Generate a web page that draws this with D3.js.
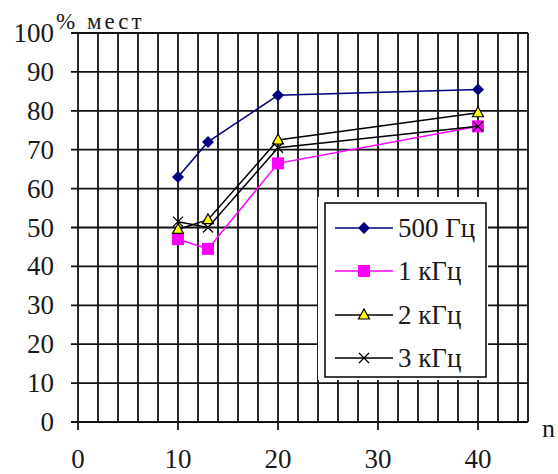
<!DOCTYPE html>
<html>
<head>
<meta charset="utf-8">
<script src="https://cdn.jsdelivr.net/npm/d3@7"></script>
<style>
  body { margin: 0; background: #fff; }
  #chart, #chart text { font-family: "Liberation Serif", "Times New Roman", Tinos !important; }
</style>
</head>
<body>
<svg id="chart" width="558" height="474"></svg>
<script>
// data
const xValues = [10, 13, 20, 40];
const hz500 = [63, 72, 84, 85.5];
const khz1 = [47, 44.5, 66.5, 76];
const khz2 = [49.5, 52, 72.5, 79.5];
const khz3 = [51.5, 50, 70.5, 76];
const seriesNames = ["500 Гц", "1 кГц", "2 кГц", "3 кГц"];
const xTicks = [0, 10, 20, 30, 40];
const yTicks = [0, 10, 20, 30, 40, 50, 60, 70, 80, 90, 100];

const svg = d3.select("#chart");
const margin = { left: 78, right: 30, top: 33, bottom: 52 };
const width = 558, height = 474;

const x = d3.scaleLinear().domain([0, 45]).range([margin.left, width - margin.right]);
const y = d3.scaleLinear().domain([0, 100]).range([height - margin.bottom, margin.top]);

const grid = svg.append("g").attr("stroke", "#111").attr("stroke-width", 1.8);

// vertical grid every 2 units
grid.selectAll(".vg").data(d3.range(0, 46, 2).concat([45])).enter().append("line")
    .attr("x1", d => x(d)).attr("x2", d => x(d)).attr("y1", y(100)).attr("y2", y(0));
// major ticks below the x axis
grid.selectAll(".xt").data(xTicks).enter().append("line")
    .attr("x1", d => x(d)).attr("x2", d => x(d)).attr("y1", y(0)).attr("y2", y(0) + 8);
// horizontal grid, reaching out as ticks on the left
grid.selectAll(".hg").data(yTicks).enter().append("line")
    .attr("x1", x(0) - 7).attr("x2", x(45)).attr("y1", d => y(d)).attr("y2", d => y(d));

function txt(sel) {
    return sel.style("font-family", '"Liberation Serif", "Times New Roman", Tinos', "important").style("fill", "#1a1a1a");
}

// tick labels
txt(svg.selectAll(".yl").data(yTicks).enter().append("text"))
    .attr("x", 54).attr("y", d => y(d) + 9).attr("text-anchor", "end")
    .attr("font-size", 27).text(d => d);
txt(svg.selectAll(".xl").data(xTicks).enter().append("text"))
    .attr("x", d => x(d)).attr("y", 468).attr("text-anchor", "middle")
    .attr("font-size", 27).text(d => d);

txt(svg.append("text")).attr("x", 56).attr("y", 29).attr("font-size", 23)
    .style("letter-spacing", "3px").text("% мест");
txt(svg.append("text")).attr("x", 542).attr("y", 437).attr("font-size", 26).text("n");

// series
const series = [
    { name: seriesNames[0], values: hz500, color: "#000080", marker: "diamond" },
    { name: seriesNames[1], values: khz1, color: "#ff00ff", marker: "square" },
    { name: seriesNames[2], values: khz2, color: "#000", marker: "triangle" },
    { name: seriesNames[3], values: khz3, color: "#000", marker: "star" }
];

const line = d3.line().x((d, i) => x(xValues[i])).y(d => y(d));

function drawMarker(g, type, color) {
    if (type === "diamond") {
        g.append("path").attr("d", "M0,-6L6,0L0,6L-6,0Z").attr("fill", color);
    } else if (type === "square") {
        g.append("rect").attr("x", -6).attr("y", -6).attr("width", 12).attr("height", 12).attr("fill", color);
    } else if (type === "triangle") {
        g.append("path").attr("d", "M0,-6L5.5,4L-5.5,4Z").attr("fill", "#ffff00").attr("stroke", "#000").attr("stroke-width", 1.2);
    } else {
        g.append("path").attr("d", "M-5,-5L5,5M-5,5L5,-5").attr("stroke", color).attr("stroke-width", 1.3).attr("fill", "none");
    }
}

series.forEach(s => {
    svg.append("path").datum(s.values).attr("d", line)
        .attr("fill", "none").attr("stroke", s.color).attr("stroke-width", 1.5);
    s.values.forEach((v, i) => {
        const g = svg.append("g").attr("transform", `translate(${x(xValues[i])},${y(v)})`);
        drawMarker(g, s.marker, s.color);
    });
});

// legend
svg.append("rect").attr("x", 318).attr("y", 197).attr("width", 170).attr("height", 183).attr("fill", "#fff");
svg.append("rect").attr("x", 325).attr("y", 203).attr("width", 161).attr("height", 174)
    .attr("fill", "#fff").attr("stroke", "#000").attr("stroke-width", 1.5);
const legendY = [228, 271, 315, 358];
series.forEach((s, i) => {
    const row = svg.append("g").attr("transform", `translate(0,${legendY[i]})`);
    row.append("line").attr("x1", 335).attr("x2", 393).attr("y1", 0).attr("y2", 0)
        .attr("stroke", s.color).attr("stroke-width", 1.5);
    drawMarker(row.append("g").attr("transform", "translate(364,0)"), s.marker, s.color);
    txt(row.append("text")).attr("x", 398).attr("y", 9).attr("font-size", 27).text(s.name);
});
</script>
</body>
</html>
